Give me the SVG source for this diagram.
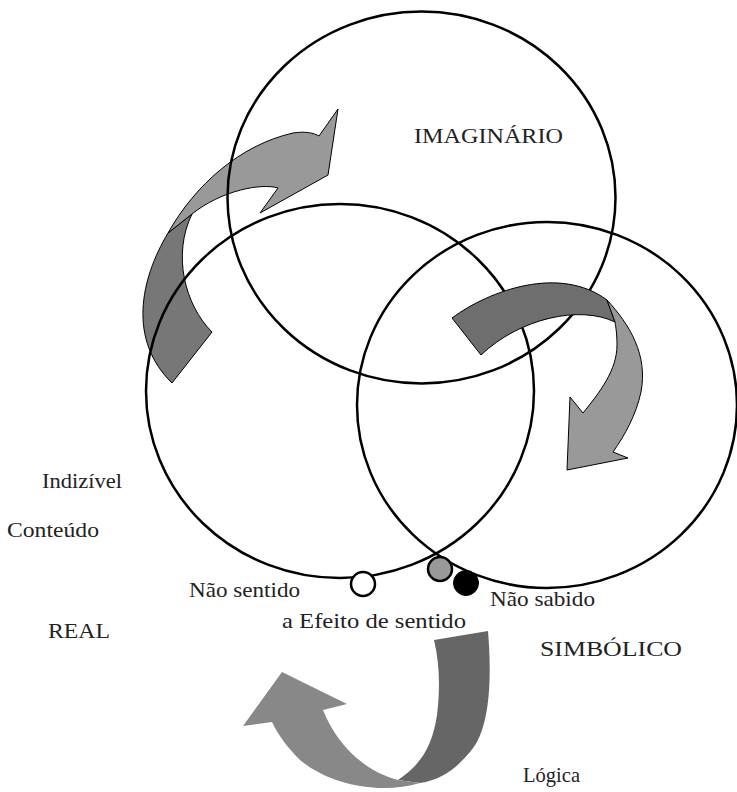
<svg xmlns="http://www.w3.org/2000/svg" width="737" height="792" viewBox="0 0 737 792">
<style>
.ring{fill:none;stroke:#000;stroke-width:2.5}
.lbl{font-family:"Liberation Serif","DejaVu Serif",serif;font-size:21px;fill:#222}
.edge{stroke:#000;stroke-width:1;stroke-linejoin:miter}
</style>
<rect width="737" height="792" fill="#fff"/>
<g id="connectors">
<g id="arrow-real-imaginario">
<path class="edge" fill="#777" d="M168,233 C140,280 128,340 172,383 L212,332 C185,305 172,255 192,214 Z"/>
<path class="edge" fill="#999" d="M168,233 C195,185 240,145 293,133 C305,131 314,133 319,136 L338,109 L328,175 L260,213 L278,188 C262,183 222,190 192,214 Z"/>
</g>
</g>
<g id="imaginario"><ellipse class="ring" cx="421.5" cy="197.5" rx="194" ry="186"/></g>
<g id="real"><ellipse class="ring" cx="340" cy="391" rx="194" ry="187"/></g>
<g id="simbolico"><ellipse class="ring" cx="547" cy="405" rx="190" ry="183"/></g>
<g id="connectors2">
<g id="arrow-imaginario-simbolico">
<path class="edge" fill="#6e6e6e" d="M452,318 C490,290 560,265 607,300 L615,322 C580,305 520,318 481,355 Z"/>
<path class="edge" fill="#999" d="M607,300 C630,325 648,355 641,392 C636,415 625,435 613,452 L628,458 L567,470 L570,397 L583,413 C600,392 617,370 617,345 C617,335 616,328 615,322 Z"/>
</g>
<g id="arrow-simbolico-real">
<path fill="#666" d="M434,640 L488,631 C492,680 490,730 470,752 C455,770 440,780 420,783 L398,780 C420,765 432,748 437,715 C440,690 440,665 434,640 Z"/>
<path fill="#888" d="M398,780 L420,783 C380,795 330,785 300,760 C288,748 278,735 272,722 L243,726 L282,672 L347,704 L323,710 C335,740 360,770 398,780 Z"/>
</g>
</g>
<g id="nao-sentido-dot"><circle cx="363" cy="584" r="12" fill="#fff" stroke="#000" stroke-width="2.5"/></g>
<g id="efeito-dot"><circle cx="440" cy="569" r="12" fill="#999" stroke="#000" stroke-width="2.5"/></g>
<g id="nao-sabido-dot"><circle cx="466" cy="583" r="12.5" fill="#000" stroke="#000" stroke-width="1"/></g>
<g id="labels">
<text class="lbl" x="414" y="143" textLength="149" lengthAdjust="spacingAndGlyphs">IMAGINÁRIO</text>
<text class="lbl" x="42" y="488" textLength="80" lengthAdjust="spacingAndGlyphs">Indizível</text>
<text class="lbl" x="7" y="537" textLength="92" lengthAdjust="spacingAndGlyphs">Conteúdo</text>
<text class="lbl" x="48" y="638" textLength="62" lengthAdjust="spacingAndGlyphs">REAL</text>
<text class="lbl" x="189" y="597" textLength="111" lengthAdjust="spacingAndGlyphs">Não sentido</text>
<text class="lbl" x="282" y="628" textLength="184" lengthAdjust="spacingAndGlyphs">a Efeito de sentido</text>
<text class="lbl" x="490" y="606" textLength="105" lengthAdjust="spacingAndGlyphs">Não sabido</text>
<text class="lbl" x="540" y="656" textLength="142" lengthAdjust="spacingAndGlyphs">SIMBÓLICO</text>
<text class="lbl" x="523" y="782" textLength="57" lengthAdjust="spacingAndGlyphs">Lógica</text>
</g>
</svg>
